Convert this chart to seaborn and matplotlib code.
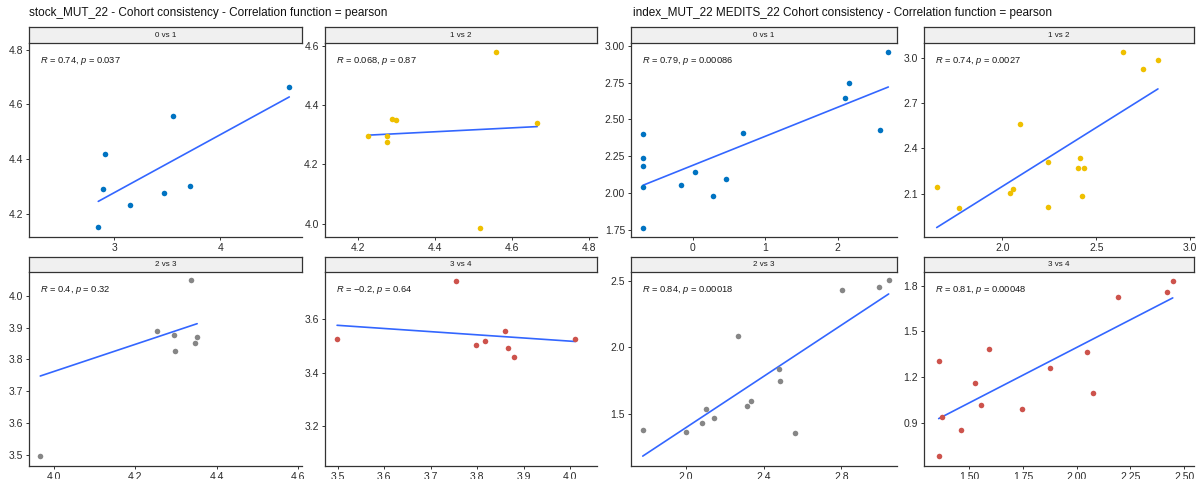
import numpy as np
import pandas as pd
import seaborn as sns
import matplotlib
matplotlib.use("Agg")
import matplotlib.pyplot as plt
from matplotlib.ticker import MultipleLocator, FormatStrFormatter

# ---------------- data ----------------
stock_01_x = [4.65, 3.55, 2.91, 2.89, 2.85, 3.15, 3.465, 3.714]
stock_01_y = [4.664, 4.559, 4.417, 4.291, 4.150, 4.231, 4.277, 4.302]
stock_12_x = [4.227, 4.276, 4.276, 4.289, 4.298, 4.559, 4.516, 4.665]
stock_12_y = [4.297, 4.296, 4.274, 4.353, 4.348, 4.580, 3.987, 4.338]
stock_23_x = [3.966, 4.253, 4.296, 4.298, 4.337, 4.347, 4.352]
stock_23_y = [3.497, 3.890, 3.875, 3.825, 4.048, 3.853, 3.869]
# fitted line as drawn in the reference for this panel (end points)
stock_23_fit_x = [3.966, 4.352]
stock_23_fit_y = [3.748, 3.912]
stock_34_x = [3.499, 3.754, 3.797, 3.817, 3.860, 3.866, 3.879, 4.011]
stock_34_y = [3.527, 3.744, 3.502, 3.519, 3.555, 3.492, 3.458, 3.524]

index_01_x = [-0.69, -0.69, -0.69, -0.69, -0.69, -0.17, 0.028, 0.28, 0.45, 0.695, 2.10, 2.16, 2.58, 2.70]
index_01_y = [2.403, 2.239, 2.187, 2.041, 1.766, 2.057, 2.145, 1.980, 2.095, 2.410, 2.645, 2.750, 2.426, 2.960]
index_12_x = [1.650, 1.768, 2.039, 2.055, 2.096, 2.242, 2.242, 2.404, 2.412, 2.432, 2.426, 2.643, 2.750, 2.828]
index_12_y = [2.146, 2.002, 2.104, 2.131, 2.562, 2.312, 2.009, 2.270, 2.338, 2.270, 2.084, 3.044, 2.931, 2.989]
index_23_x = [1.777, 2.000, 2.084, 2.105, 2.146, 2.268, 2.313, 2.336, 2.479, 2.486, 2.562, 2.805, 2.992, 3.044]
index_23_y = [1.382, 1.362, 1.433, 1.534, 1.465, 2.081, 1.560, 1.600, 1.837, 1.749, 1.355, 2.428, 2.453, 2.503]
index_34_x = [1.357, 1.357, 1.373, 1.460, 1.528, 1.556, 1.593, 1.743, 1.877, 2.050, 2.075, 2.193, 2.420, 2.447]
index_34_y = [1.307, 0.678, 0.934, 0.853, 1.158, 1.014, 1.385, 0.991, 1.259, 1.366, 1.097, 1.726, 1.759, 1.833]

panel_labels = ["0 vs 1", "1 vs 2", "2 vs 3", "3 vs 4"]
stock_stats = [("0.74", "0.037"), ("0.068", "0.87"), ("0.4", "0.32"), ("\u22120.2", "0.64")]
index_stats = [("0.79", "0.00086"), ("0.74", "0.0027"), ("0.84", "0.00018"), ("0.81", "0.00048")]
group_titles = ["stock_MUT_22 - Cohort consistency - Correlation function = pearson",
                "index_MUT_22 MEDITS_22 Cohort consistency - Correlation function = pearson"]
palette = ["#0073C2", "#EFC000", "#868686", "#CD534C"]

# ---------------- style ----------------
sns.set_style("white")
plt.rcParams['font.family'] = ['Liberation Sans', 'DejaVu Sans']
plt.rcParams['mathtext.fontset'] = 'custom'
plt.rcParams['mathtext.it'] = 'Liberation Sans:italic'
plt.rcParams['mathtext.rm'] = 'Liberation Sans'

W, H = 1197, 479
fig = plt.figure(figsize=(W / 100, H / 100), dpi=100)
fig.patch.set_facecolor("white")

def rect(x0, x1, ytop, ybot):
    return [x0 / W, 1 - ybot / H, (x1 - x0) / W, (ybot - ytop) / H]

cols = [(29.3, 302), (325, 597), (631.3, 897), (924.3, 1194)]
rows = [((27.3, 43.3), (43.3, 236.5)), ((256.5, 272.3), (272.3, 466))]

stock_data = [(stock_01_x, stock_01_y), (stock_12_x, stock_12_y),
              (stock_23_x, stock_23_y), (stock_34_x, stock_34_y)]
index_data = [(index_01_x, index_01_y), (index_12_x, index_12_y),
              (index_23_x, index_23_y), (index_34_x, index_34_y)]
stock_fits = [None, None, (stock_23_fit_x, stock_23_fit_y), None]
index_fits = [None, None, None, None]

# layout: limits, tick steps, formats
stock_layout = [
    ((2.2, 4.77), (4.117, 4.823), 1.0, 0.2, "%.0f", "%.1f"),
    ((4.115, 4.82), (3.957, 4.608), 0.2, 0.2, "%.1f", "%.1f"),
    ((3.939, 4.61), (3.466, 4.073), 0.2, 0.1, "%.1f", "%.1f"),
    ((3.473, 4.058), (3.051, 3.775), 0.1, 0.2, "%.1f", "%.1f"),
]
index_layout = [
    ((-0.852, 2.82), (1.707, 3.016), 1.0, 0.25, "%.0f", "%.2f"),
    ((1.584, 3.02), (1.814, 3.10), 0.5, 0.3, "%.1f", "%.1f"),
    ((1.718, 3.087), (1.108, 2.563), 0.4, 0.5, "%.1f", "%.1f"),
    ((1.29, 2.546), (0.615, 1.888), 0.25, 0.3, "%.2f", "%.1f"),
]

LINE_KW = dict(color="#3366FF", lw=1.2)

def draw_group(data, fits, layout, stats, col_offset):
    for i in range(4):
        r, c = divmod(i, 2)
        (sx0, sx1) = cols[col_offset + c]
        (st, sb), (pt, pb) = rows[r]
        ax = fig.add_axes(rect(sx0, sx1, pt, pb))
        x, y = data[i]
        df = pd.DataFrame({"x": x, "y": y})
        sns.scatterplot(data=df, x="x", y="y", ax=ax, color=palette[i], s=16,
                        linewidth=0, zorder=3)
        if fits[i] is None:
            sns.regplot(data=df, x="x", y="y", ax=ax, scatter=False, ci=None,
                        truncate=True, line_kws=LINE_KW)
        else:
            fx, fy = fits[i]
            sns.lineplot(x=fx, y=fy, ax=ax, **LINE_KW)
        xl, yl, xs, ys, xf, yf = layout[i]
        ax.set_xlim(*xl)
        ax.set_ylim(*yl)
        ax.xaxis.set_major_locator(MultipleLocator(xs))
        ax.yaxis.set_major_locator(MultipleLocator(ys))
        ax.xaxis.set_major_formatter(FormatStrFormatter(xf))
        ax.yaxis.set_major_formatter(FormatStrFormatter(yf))
        ax.set_xlabel("")
        ax.set_ylabel("")
        for s in ["top", "right"]:
            ax.spines[s].set_visible(False)
        for s in ["left", "bottom"]:
            ax.spines[s].set_color("#333333")
            ax.spines[s].set_linewidth(0.9)
        ax.tick_params(axis="both", direction="out", length=2.5, width=0.7,
                       color="#333333", labelsize=7.5, labelcolor="#2b2b2b", pad=2,
                       bottom=True, left=True)
        rv, pv = stats[i]
        ax.text(0.04, 0.91, r"$\it{R}$ = " + rv + r", $\it{p}$ = " + pv,
                transform=ax.transAxes, ha="left", va="center", fontsize=6.7,
                color="#1a1a1a")
        # strip
        sax = fig.add_axes(rect(sx0, sx1, st, sb))
        sax.set_facecolor("#F0F0F0")
        sax.set_xticks([])
        sax.set_yticks([])
        for s in sax.spines.values():
            s.set_visible(True)
            s.set_color("#333333")
            s.set_linewidth(0.9)
        sax.text(0.5, 0.5, panel_labels[i], ha="center", va="center",
                 fontsize=5.8, color="#1a1a1a", transform=sax.transAxes)

draw_group(stock_data, stock_fits, stock_layout, stock_stats, 0)
draw_group(index_data, index_fits, index_layout, index_stats, 2)

fig.text(29 / W, 1 - 13 / H, group_titles[0], ha="left", va="center", fontsize=8.5, color="#111111")
fig.text(633 / W, 1 - 13 / H, group_titles[1], ha="left", va="center", fontsize=8.5, color="#111111")

fig.savefig("out.png", dpi=100, facecolor="white")
